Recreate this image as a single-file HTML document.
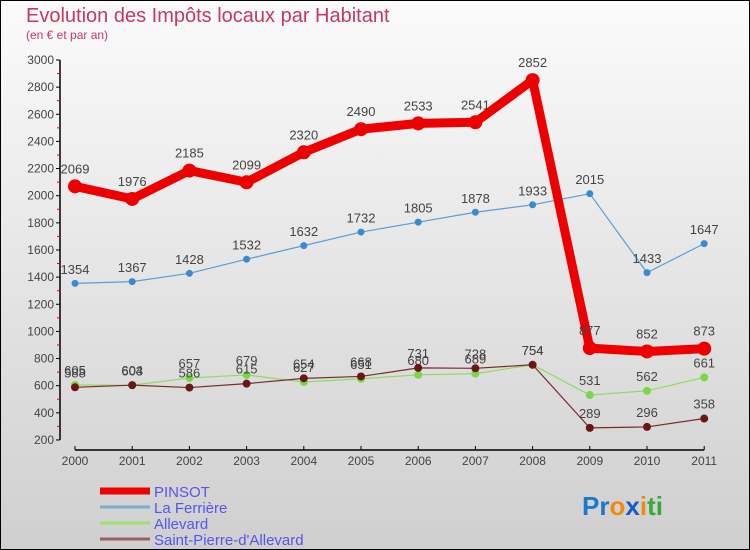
<!DOCTYPE html>
<html><head><meta charset="utf-8"><style>
html,body{margin:0;padding:0;width:750px;height:550px;overflow:hidden}
body{font-family:"Liberation Sans",sans-serif}
</style></head><body>
<svg width="750" height="550" xmlns="http://www.w3.org/2000/svg">
<defs><linearGradient id="bg" x1="0" y1="0" x2="0" y2="1"><stop offset="0" stop-color="#fbfbfb"/><stop offset="1" stop-color="#cfcfcf"/></linearGradient></defs>
<rect x="0.5" y="0.5" width="749" height="549" fill="url(#bg)" stroke="#000"/>
<text x="26" y="22" font-size="20" fill="#c8385e">Evolution des Impôts locaux par Habitant</text>
<text x="26" y="39" font-size="12" fill="#c8385e">(en € et par an)</text>
<g id="axes"></g>
<g id="series"></g>
<g id="legend"></g>
<text x="582" y="515" font-size="26" font-weight="bold"><tspan fill="#1a7ac8">Pr</tspan><tspan fill="#f08a10">o</tspan><tspan fill="#1a5ac8">x</tspan><tspan fill="#f08a10">i</tspan><tspan fill="#38a838">ti</tspan></text>
</svg>
<script>
const years=[2000,2001,2002,2003,2004,2005,2006,2007,2008,2009,2010,2011];
const yTicks=[200,400,600,800,1000,1200,1400,1600,1800,2000,2200,2400,2600,2800,3000];
const pinsot=[2069,1976,2185,2099,2320,2490,2533,2541,2852,877,852,873];
const ferriere=[1354,1367,1428,1532,1632,1732,1805,1878,1933,2015,1433,1647];
const allevard=[605,603,657,679,627,651,680,689,754,531,562,661];
const stpierre=[588,604,586,615,654,668,731,728,754,289,296,358];
const NS="http://www.w3.org/2000/svg";
function X(i){return 75+i*57.2;}
function Y(v){return 60+(3000-v)/200*27.14;}
function mk(t,a,p){const e=document.createElementNS(NS,t);for(const k in a)e.setAttribute(k,a[k]);p.appendChild(e);return e;}
const ax=document.getElementById('axes');
let yl=mk('line',{x1:60,y1:60,x2:60,y2:440,stroke:'#000','stroke-width':1.5},ax);


yTicks.forEach(v=>{
 mk('line',{x1:56,y1:Y(v),x2:60,y2:Y(v),stroke:'#000'},ax);
 if(v<3000) mk('line',{x1:57,y1:Y(v+100),x2:60,y2:Y(v+100),stroke:'#e00'},ax);
 const t=mk('text',{x:54,y:Y(v)+4,'font-size':12,'text-anchor':'end',fill:'#444'},ax);t.textContent=v;
 
 
});
let xl=mk('line',{x1:75,y1:450,x2:X(11),y2:450,stroke:'#000','stroke-width':1.5},ax);


years.forEach((y,i)=>{
 mk('line',{x1:X(i),y1:446,x2:X(i),y2:450,stroke:'#000'},ax);
 const t=mk('text',{x:X(i),y:465,'font-size':12,'text-anchor':'middle',fill:'#444'},ax);t.textContent=y;
 
 
});
const sg=document.getElementById('series');
function draw(data,color,pt,lw,r,name){
 const g=mk('g',{},sg);
 
 
 mk('polyline',{points:data.map((v,i)=>X(i)+','+Y(v)).join(' '),fill:'none',stroke:color,'stroke-width':lw,'stroke-linejoin':'round'},g);
 data.forEach((v,i)=>{
  const c=mk('circle',{cx:X(i),cy:Y(v),r:r,fill:pt},g);
  
  
  const t=mk('text',{x:X(i),y:Y(v)-(r+6),'font-size':13,'text-anchor':'middle',fill:'#444'},g);t.textContent=v;
  
  
 });
}
draw(ferriere,'#5a9ed0','#3a8ad0',1.2,3.5,'la-ferriere');
draw(allevard,'#8edc60','#7ad848',1.2,4,'allevard');
draw(stpierre,'#7a2a2a','#6a1616',1.2,4,'saint-pierre');
draw(pinsot,'#ee0000','#ee0000',9,7,'pinsot');
const lg=document.getElementById('legend');
[['PINSOT','#ee0000',7],['La Ferrière','#7aaed0',3],['Allevard','#9ee070',3],["Saint-Pierre-d'Allevard",'#9a6060',3]].forEach((e,i)=>{
 const y=491+i*16;
 const l=mk('line',{x1:100,y1:y,x2:150,y2:y,stroke:e[1],'stroke-width':e[2]},lg);
 
 
 const t=mk('text',{x:154,y:y+6,'font-size':15,fill:'#5555ee'},lg);t.textContent=e[0];
 
 
});
</script>
</body></html>
